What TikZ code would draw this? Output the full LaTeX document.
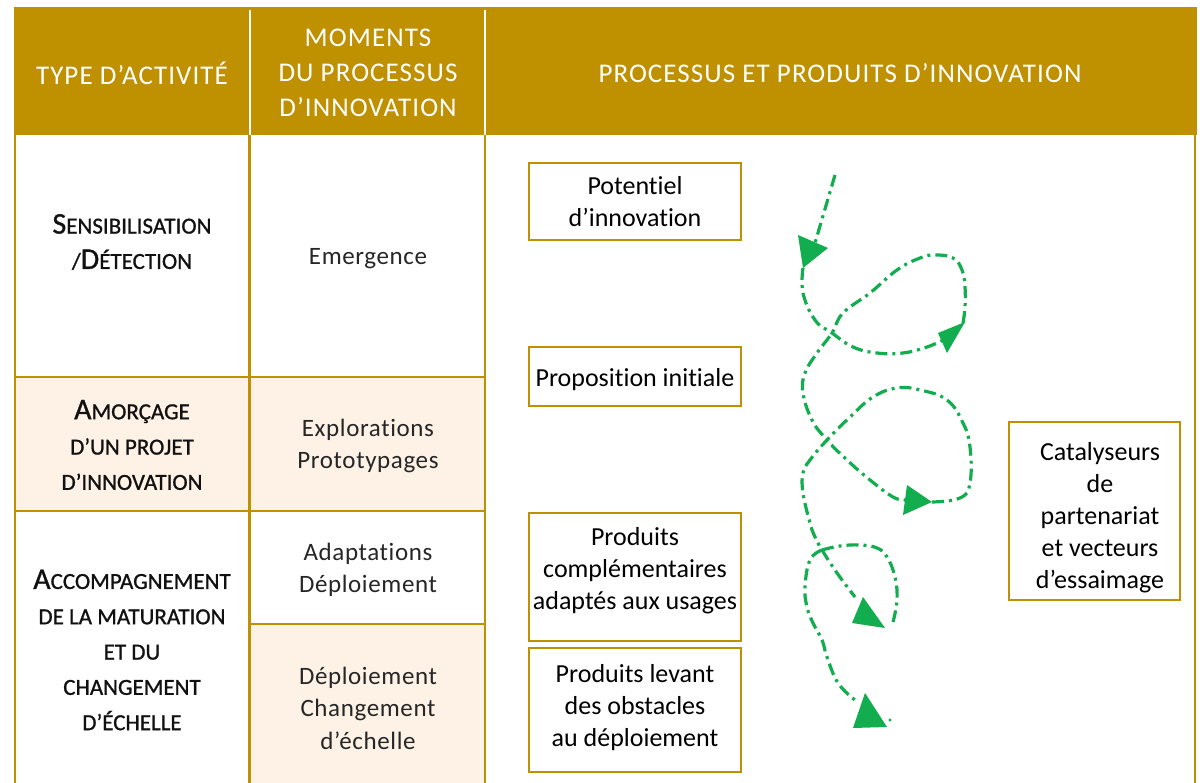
\documentclass[tikz,border=0pt]{standalone}
\usepackage{fontspec}
\setmainfont{Carlito}[Ligatures=NoCommon]
\newfontfamily\midfont{Carlito}[LetterSpace=2.5,Ligatures=NoCommon]
\newfontfamily\headfont{Carlito}[LetterSpace=4,Ligatures=NoCommon]
\newfontfamily\actfont{Carlito}[FakeBold=1,Ligatures=NoCommon]
\definecolor{gold}{HTML}{BF9000}
\definecolor{peach}{HTML}{FEF2E6}
\definecolor{ink}{HTML}{111111}
\definecolor{midgray}{HTML}{262626}
\definecolor{sgreen}{HTML}{12AD4E}
\newcommand{\bigini}[1]{{\fontsize{30}{35.3}\selectfont #1}}
\begin{document}
\begin{tikzpicture}[x=1pt,y=-1pt,
  gline/.style={draw=gold,line width=2.5pt},
  headtxt/.style={text=white,align=center,font=\headfont\fontsize{27}{35}\selectfont,inner sep=0pt},
  acttxt/.style={text=ink,align=center,font=\actfont\fontsize{23}{35.3}\selectfont,inner sep=0pt},
  momtxt/.style={text=midgray,align=center,font=\midfont\fontsize{25}{32.5}\selectfont,inner sep=0pt},
  prodbox/.style={draw=gold,line width=2.5pt,inner sep=0pt},
  boxtxt/.style={text=black,align=center,font=\fontsize{26}{32}\selectfont,inner sep=0pt},
  spiral/.style={draw=sgreen,line width=3.2pt,dash pattern=on 12pt off 5pt on 3pt off 5pt},
  tip/.style={fill=sgreen}
]
\useasboundingbox (0,0) rectangle (1200,783);
\fill[white] (0,0) rectangle (1200,783);
% header band
\fill[gold] (14,7) rectangle (1197,135);
\draw[white,line width=2pt] (250,10) -- (250,135);
\draw[white,line width=2pt] (485,10) -- (485,135);
% tinted cells
\fill[peach] (15,377) rectangle (485,511);
\fill[peach] (249.5,624) rectangle (485,783);
% grid
\draw[gline] (15,135) -- (15,783);
\draw[gline] (249.5,135) -- (249.5,783);
\draw[gline] (485,135) -- (485,783);
\draw[gline] (1195,135) -- (1195,783);
\draw[gline] (15,377) -- (485,377);
\draw[gline] (15,511) -- (485,511);
\draw[gline] (249.5,624) -- (485,624);
% header texts
\node[headtxt] (h1) at (132,73) {TYPE D’ACTIVITÉ};
\node[headtxt] (h2) at (368,73) {MOMENTS\\DU PROCESSUS\\D’INNOVATION};
\node[headtxt] (h3) at (840,73) {PROCESSUS ET PRODUITS D’INNOVATION};
% activity types
\node[acttxt] (a1) at (132,242) {\bigini{S}ENSIBILISATION\\/\bigini{D}ÉTECTION};
\node[acttxt] (a2) at (132,445) {\bigini{A}MORÇAGE\\D’UN PROJET\\D’INNOVATION};
\node[acttxt] (a3) at (132,650) {\bigini{A}CCOMPAGNEMENT\\DE LA MATURATION\\ET DU\\CHANGEMENT\\D’ÉCHELLE};
% moments
\node[momtxt] (m1) at (368,259) {Emergence};
\node[momtxt] (m2) at (368,446) {Explorations\\Prototypages};
\node[momtxt] (m3) at (368,570) {Adaptations\\Déploiement};
\node[momtxt] (m4) at (368,708) {Déploiement\\Changement\\d’échelle};
% product boxes
\node[prodbox,minimum width=212pt,minimum height=77pt] (b1) at (635,201.5) {};
\node[boxtxt] (b1t) at (635,202) {Potentiel\\d’innovation};
\node[prodbox,minimum width=212pt,minimum height=59pt] (b2) at (635,376.5) {};
\node[boxtxt] (b2t) at (635,379.5) {Proposition initiale};
\node[prodbox,minimum width=212pt,minimum height=128pt] (b3) at (635,577) {};
\node[boxtxt] (b3t) at (635,571) {Produits\\complémentaires\\adaptés aux usages};
\node[prodbox,minimum width=212pt,minimum height=124pt] (b4) at (635,710) {};
\node[boxtxt] (b4t) at (635,708) {Produits levant\\des obstacles\\au déploiement};
\node[prodbox,minimum width=171pt,minimum height=178pt] (b5) at (1094.5,511) {};
\node[boxtxt] (b5t) at (1100,518) {Catalyseurs\\de\\partenariat\\et vecteurs\\d’essaimage};
% spiral
\draw[spiral] (835,175) -- (815,243);
\draw[spiral] plot[smooth,tension=0.7] coordinates {(803,268) (803,293) (815,320) (832,333) (853,347) (877,353) (903,353) (927,347) (943,340)};
\draw[spiral] plot[smooth,tension=0.7] coordinates {(963,323) (965,307) (965,287) (962,270) (953,258) (935,255) (920,258) (897,270) (870,293) (843,313) (832,333) (817,353) (805,373) (803,393) (812,420) (827,440) (847,460) (870,480) (893,497) (905,500)};
\draw[spiral] plot[smooth,tension=0.7] coordinates {(932,502) (960,498) (970,483) (970,447) (963,423) (947,400) (920,390) (897,388) (873,397) (850,417) (827,440) (810,460) (803,473) (803,493) (810,523) (815,537) (822,550) (837,573) (855,597)};
\draw[spiral] plot[smooth,tension=0.7] coordinates {(822,550) (840,546) (860,545) (877,548) (887,557) (895,577) (897,600) (893,622)};
\draw[spiral] plot[smooth,tension=0.7] coordinates {(822,550) (810,560) (805,587) (807,607) (813,623) (822,640) (827,657) (838,683) (855,700)};
% arrow heads
\fill[tip] (798,235) -- (828,248) -- (803,268) -- cycle;
\fill[tip] (938,333) -- (965,322) -- (947,353) -- cycle;
\fill[tip] (907,485) -- (932,502) -- (903,515) -- cycle;
\fill[tip] (863,597) -- (885,628) -- (852,623) -- cycle;
\fill[tip] (865,693) -- (887,727) -- (853,728) -- cycle;
\fill[tip] (890,720) circle (1.6pt);
\end{tikzpicture}
\end{document}
